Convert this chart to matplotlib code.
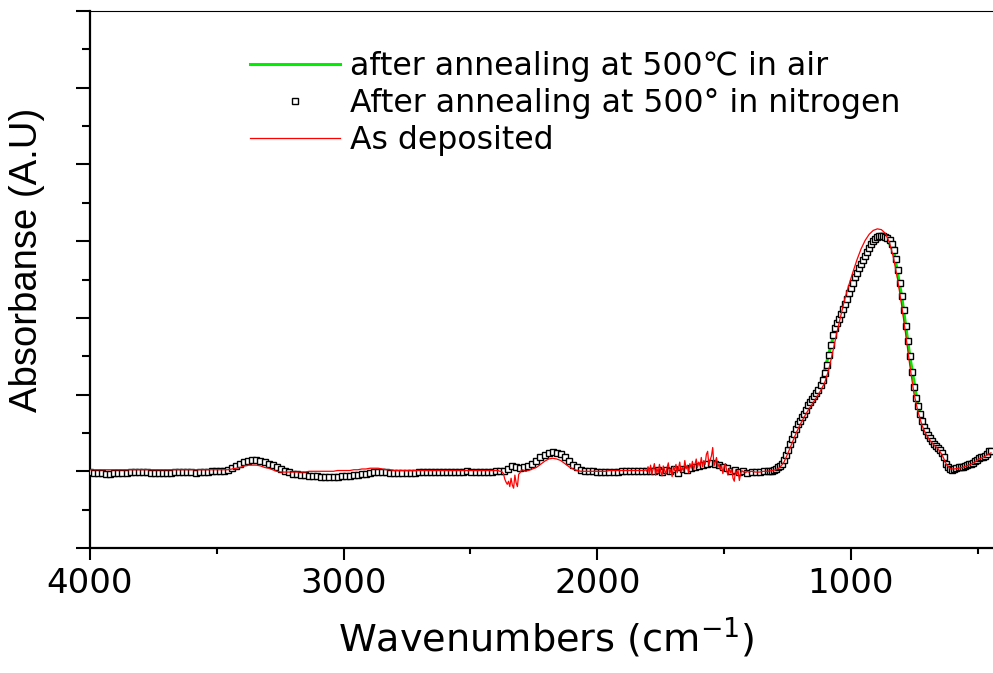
import numpy as np
import matplotlib
matplotlib.use("Agg")
import matplotlib.pyplot as plt
from matplotlib.ticker import MultipleLocator, NullFormatter

# ---- data (wavenumber in cm-1, absorbance in A.U.) ----

# after annealing at 500 in nitrogen (open squares): 16 cm-1 steps, 8 in the main band
n2_wn = np.concatenate([np.arange(4000, 1320, -16), np.arange(1320, 440, -8)])
n2_abs = [
    # 4000 - 1328
    -0.01, -0.02, -0.02, -0.02, -0.03, -0.03, -0.02, -0.02, -0.02, -0.02,
    -0.01, -0.01, -0.01, -0.01, -0.01, -0.02, -0.02, -0.02, -0.02, -0.02,
    -0.02, -0.01, -0.01, -0.01, -0.01, -0.01, -0.02, -0.01, -0.01, -0.01,
    0.00, 0.00, 0.01, 0.01, 0.02, 0.04, 0.07, 0.10, 0.12, 0.14,
    0.15, 0.15, 0.14, 0.12, 0.10, 0.08, 0.06, 0.03, 0.01, -0.01,
    -0.03, -0.04, -0.05, -0.05, -0.06, -0.06, -0.06, -0.07, -0.07, -0.07,
    -0.07, -0.07, -0.06, -0.06, -0.06, -0.05, -0.05, -0.04, -0.03, -0.02,
    -0.01, -0.01, -0.01, -0.01, -0.02, -0.02, -0.02, -0.02, -0.02, -0.02,
    -0.02, -0.01, -0.01, -0.01, -0.01, -0.01, -0.01, -0.01, -0.01, -0.01,
    -0.01, -0.01, -0.01, 0.00, -0.01, -0.01, -0.01, -0.01, -0.01, -0.01,
    0.00, 0.00, 0.01, 0.03, 0.07, 0.06, 0.04, 0.05, 0.07, 0.10,
    0.14, 0.18, 0.21, 0.24, 0.25, 0.24, 0.22, 0.18, 0.13, 0.08,
    0.05, 0.02, 0.01, 0.00, 0.00, -0.01, -0.01, -0.01, -0.01, -0.01,
    -0.01, 0.00, 0.00, 0.00, 0.00, 0.00, 0.00, 0.01, 0.00, 0.01,
    0.02, -0.01, 0.02, 0.01, 0.03, -0.02, 0.03, 0.02, 0.04, 0.05,
    0.07, 0.08, 0.10, 0.11, 0.10, 0.08, 0.05, 0.04, 0.01, 0.02,
    -0.01, 0.00, -0.02, -0.01, -0.01, -0.01, 0.00, 0.00,
    # 1320 - 448
    0.00, 0.01, 0.02, 0.03, 0.05, 0.07, 0.10, 0.15, 0.21, 0.28,
    0.35, 0.42, 0.49, 0.55, 0.61, 0.66, 0.71, 0.75, 0.80, 0.86,
    0.90, 0.94, 0.98, 1.02, 1.06, 1.12, 1.19, 1.28, 1.39, 1.52,
    1.65, 1.78, 1.87, 1.93, 1.99, 2.05, 2.11, 2.18, 2.25, 2.32,
    2.39, 2.46, 2.53, 2.59, 2.65, 2.70, 2.76, 2.81, 2.86, 2.91,
    2.96, 3.00, 3.03, 3.05, 3.07, 3.07, 3.07, 3.06, 3.04, 3.01,
    2.96, 2.88, 2.77, 2.62, 2.46, 2.28, 2.10, 1.90, 1.70, 1.50,
    1.29, 1.10, 0.96, 0.85, 0.75, 0.66, 0.58, 0.52, 0.47, 0.43,
    0.39, 0.36, 0.33, 0.31, 0.28, 0.24, 0.18, 0.10, 0.05, 0.03,
    0.02, 0.03, 0.04, 0.05, 0.06, 0.06, 0.07, 0.08, 0.09, 0.10,
    0.11, 0.13, 0.15, 0.17, 0.18, 0.19, 0.20, 0.22, 0.26, 0.27,
]

# after annealing at 500 C in air (green line), every 32 cm-1
air_wn = np.arange(4000, 440, -32)
air_abs = [
    -0.01, -0.02, -0.02, -0.02, -0.02, -0.01, -0.01, -0.01, -0.02, -0.02,
    -0.02, -0.01, -0.01, -0.01, -0.01, 0.00, 0.01, 0.02, 0.07, 0.12,
    0.15, 0.14, 0.10, 0.06, 0.01, -0.03, -0.05, -0.06, -0.06, -0.07,
    -0.07, -0.06, -0.06, -0.05, -0.03, -0.01, -0.01, -0.02, -0.02, -0.02,
    -0.02, -0.01, -0.01, -0.01, -0.01, -0.01, -0.01, -0.01, -0.01, -0.01,
    0.00, 0.01, 0.06, 0.04, 0.07, 0.14, 0.21, 0.25, 0.22, 0.13,
    0.05, 0.01, 0.00, -0.01, -0.01, -0.01, 0.00, 0.00, 0.00, 0.00,
    0.02, 0.01, 0.02, 0.02, 0.04, 0.07, 0.10, 0.10, 0.05, 0.02,
    0.00, -0.01, -0.01, 0.00, 0.01, 0.07, 0.28, 0.55, 0.75, 0.94,
    1.12, 1.52, 1.93, 2.18, 2.46, 2.70, 2.91, 3.05, 3.06, 2.88,
    2.28, 1.50, 0.85, 0.52, 0.36, 0.24, 0.03, 0.05, 0.08, 0.13,
    0.19, 0.25,
]

# as deposited (red line): 16 cm-1 steps, 5 cm-1 steps in the noisy parts
dep_wn = np.concatenate([
    np.arange(4000, 2400, -16),
    np.arange(2400, 2260, -5),
    np.arange(2256, 1820, -16),
    np.arange(1820, 1400, -5),
    np.arange(1392, 440, -16),
])
dep_abs = [
    # 4000 - 2416
    0.02, 0.02, 0.02, 0.02, 0.02, 0.02, 0.02, 0.02, 0.02, 0.02,
    0.02, 0.02, 0.02, 0.02, 0.02, 0.02, 0.02, 0.02, 0.02, 0.02,
    0.02, 0.02, 0.02, 0.02, 0.02, 0.02, 0.02, 0.02, 0.02, 0.02,
    0.02,
    0.02, 0.02, 0.02, 0.02, 0.03, 0.04, 0.05, 0.07, 0.08, 0.08,
    0.08, 0.07, 0.05, 0.04, 0.02, 0.00, -0.01, -0.01, -0.01, -0.01,
    -0.01, -0.01, -0.01, 0.00, 0.00, 0.00, 0.00, 0.00, 0.00, 0.00,
    0.01, 0.01, 0.01, 0.01, 0.02, 0.02, 0.03, 0.03, 0.04, 0.04,
    0.04, 0.03, 0.02, 0.02, 0.01,
    0.01, 0.01, 0.01, 0.01, 0.01, 0.01, 0.01, 0.01, 0.01, 0.01,
    0.01, 0.01, 0.01, 0.01, 0.01, 0.01, 0.01, 0.01, 0.01, 0.01,
    0.01, 0.01, 0.01, 0.01,
    # 2400 - 2265
    0.01, 0.01, 0.01, 0.00, 0.00, -0.01, -0.03, -0.10, -0.14, -0.17,
    -0.13, -0.20, -0.09, -0.18, -0.22, -0.05, -0.15, -0.20, -0.04, -0.02,
    0.01, 0.02, 0.01, 0.00, 0.00, 0.01, 0.01, 0.02,
    # 2256 - 1824
    0.03, 0.05, 0.09, 0.13, 0.16, 0.17, 0.16, 0.14, 0.10, 0.06,
    0.03, 0.01, 0.00, 0.00, 0.00, 0.00, 0.00, 0.00, 0.00, 0.01,
    0.01, 0.01, 0.01, 0.01, 0.01, 0.01, 0.01, 0.01,
    # 1820 - 1405
    0.01, 0.01, 0.02, 0.00, 0.06, -0.03, 0.08, -0.04, 0.03, 0.10,
    -0.05, 0.04, -0.02, 0.09, 0.00, -0.06, 0.07, 0.02, -0.04, 0.05,
    0.11, -0.03, 0.03, -0.07, 0.06, 0.01, 0.09, -0.02, 0.04, 0.12,
    -0.01, 0.05, 0.00, 0.14, 0.03, 0.08, -0.02, 0.10, 0.04, 0.13,
    0.02, 0.09, 0.16, 0.05, 0.12, 0.07, 0.18, 0.06, 0.14, 0.09,
    0.22, 0.26, 0.08, 0.15, 0.20, 0.31, 0.07, 0.12, 0.18, 0.05,
    0.10, 0.02, 0.08, -0.03, 0.06, 0.10, 0.01, -0.05, 0.04, -0.02,
    0.03, -0.09, -0.13, 0.02, -0.04, 0.01, -0.12, -0.03, 0.01, -0.01,
    0.00, -0.02, 0.00, -0.01,
    # 1392 - 448
    0.00, -0.01, -0.01, 0.00, 0.00, 0.01, 0.02, 0.05, 0.12, 0.24,
    0.37, 0.50, 0.61, 0.71, 0.80, 0.88, 0.96, 1.05, 1.15, 1.32,
    1.55, 1.80, 2.03, 2.25, 2.43, 2.60, 2.76, 2.90, 3.01, 3.09,
    3.14, 3.16, 3.15, 3.10, 2.98, 2.78, 2.50, 2.16, 1.78, 1.38,
    1.02, 0.78, 0.60, 0.48, 0.40, 0.34, 0.29, 0.21, 0.09, 0.03,
    0.03, 0.04, 0.05, 0.07, 0.09, 0.12, 0.16, 0.18, 0.21, 0.24,
]

labels = ['after annealing at 500\u2103 in air',
          'After annealing at 500\u00b0 in nitrogen',
          'As deposited']

# ---- figure ----
fig = plt.figure(figsize=(9.93, 6.73), dpi=100)
ax = fig.add_axes([90 / 993, 125 / 673, 903 / 993, 537 / 673])

ax.plot(air_wn, air_abs, color='#00ee00', lw=2.2, label=labels[0], zorder=2)
ax.plot(n2_wn, n2_abs, ls='none', marker='s', ms=4.2, mfc='white', mec='black',
        mew=1.0, label=labels[1], zorder=3)
ax.plot(dep_wn, dep_abs, color='#ff0000', lw=0.9, label=labels[2], zorder=4)

ax.set_xlim(4000, 440)
ax.set_ylim(-1, 6)

ax.xaxis.set_major_locator(MultipleLocator(1000))
ax.xaxis.set_minor_locator(MultipleLocator(500))
ax.yaxis.set_major_locator(MultipleLocator(1))
ax.yaxis.set_minor_locator(MultipleLocator(0.5))
ax.yaxis.set_major_formatter(NullFormatter())

ax.spines['right'].set_visible(False)
ax.spines['left'].set_linewidth(1.6)
ax.spines['bottom'].set_linewidth(1.6)
ax.spines['top'].set_linewidth(0.8)

ax.tick_params(axis='x', which='major', direction='out', length=8.6, width=1.5,
               labelsize=24.5, pad=5, top=False)
ax.tick_params(axis='x', which='minor', direction='out', length=4.3, width=1.5,
               top=False)
ax.tick_params(axis='y', which='major', direction='out', length=10, width=1.5,
               right=False)
ax.tick_params(axis='y', which='minor', direction='out', length=5.8, width=1.5,
               right=False)

ax.set_xlabel('Wavenumbers (cm$^{-1}$)', fontsize=27.5)
ax.xaxis.set_label_coords(0.505, -0.125)
ax.set_ylabel('Absorbanse (A.U)', fontsize=27.5, family='Liberation Sans',
              va='center')
ax.yaxis.set_label_coords(-0.07, 0.536)

ax.legend(loc='upper left', bbox_to_anchor=(0.177, 0.925), frameon=False,
          fontsize=22.7, handlelength=2.85, handletextpad=0.32,
          labelspacing=0.18, borderpad=0, borderaxespad=0, numpoints=1)

fig.savefig('out.png', dpi=100, facecolor='white')
